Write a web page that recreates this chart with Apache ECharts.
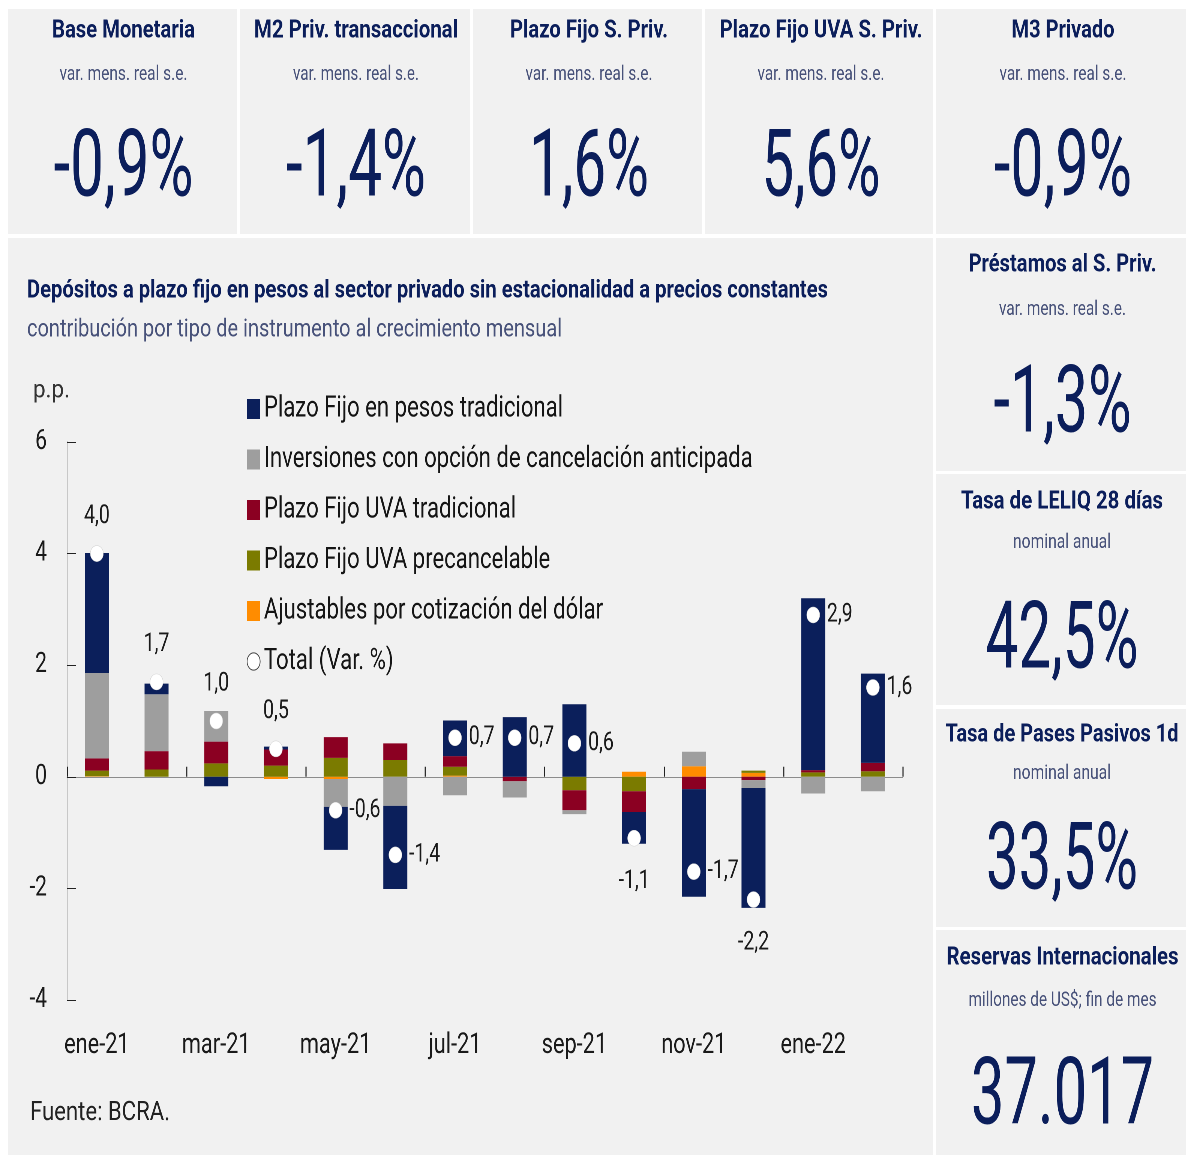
<!DOCTYPE html>
<html><head><meta charset="utf-8">
<script src="https://cdn.jsdelivr.net/npm/echarts@6/dist/echarts.min.js"></script>
<style>
html,body{margin:0;padding:0;background:#fff;overflow:hidden;width:1186px;height:1155px}
#c{height:1155px;transform-origin:0 0}
</style>
</head><body><div id="c"></div>
<script>
// ---------- data ----------
const categories = ['ene-21','feb-21','mar-21','abr-21','may-21','jun-21','jul-21','ago-21','sep-21','oct-21','nov-21','dic-21','ene-22','feb-22'];
const pfTradicional    = [2.15, 0.19, -0.17, 0.05, -0.77, -1.49, 0.64, 1.07, 1.30, -0.57, -1.93, -2.15, 3.08, 1.60];
const inversiones      = [1.53, 1.02, 0.55, 0.00, -0.50, -0.52, -0.33, -0.29, -0.07, 0.00, 0.26, -0.14, -0.30, -0.26];
const uvaTradicional   = [0.22, 0.33, 0.39, 0.29, 0.37, 0.30, 0.19, -0.08, -0.36, -0.37, -0.22, -0.06, 0.04, 0.15];
const uvaPrecancelable = [0.10, 0.13, 0.24, 0.20, 0.34, 0.30, 0.16, 0.00, -0.24, -0.26, 0.00, 0.04, 0.08, 0.10];
const ajustablesDolar  = [0.01, 0.00, 0.00, -0.04, -0.04, 0.00, 0.02, 0.00, 0.00, 0.09, 0.19, 0.07, 0.00, 0.00];
const total            = [4.0, 1.7, 1.0, 0.5, -0.6, -1.4, 0.7, 0.7, 0.6, -1.1, -1.7, -2.2, 2.9, 1.6];
const totalLabelSide   = ['top','top','top','top','right','right','right','right','right','bottom','right','bottom','right','right'];
const seriesNames = ['Plazo Fijo en pesos tradicional','Inversiones con opción de cancelación anticipada','Plazo Fijo UVA tradicional','Plazo Fijo UVA precancelable','Ajustables por cotización del dólar','Total (Var. %)'];

const kpiTitles    = ['Base Monetaria','M2 Priv. transaccional','Plazo Fijo S. Priv.','Plazo Fijo UVA S. Priv.','M3 Privado','Préstamos al S. Priv.','Tasa de LELIQ 28 días','Tasa de Pases Pasivos 1d','Reservas Internacionales'];
const kpiSubtitles = ['var. mens. real s.e.','var. mens. real s.e.','var. mens. real s.e.','var. mens. real s.e.','var. mens. real s.e.','var. mens. real s.e.','nominal anual','nominal anual','millones de US$; fin de mes'];
const kpiValues    = ['-0,9%','-1,4%','1,6%','5,6%','-0,9%','-1,3%','42,5%','33,5%','37.017'];
const chartTitle = 'Depósitos a plazo fijo en pesos al sector privado sin estacionalidad a precios constantes';
const chartSubtitle = 'contribución por tipo de instrumento al crecimiento mensual';
const unitLabel = 'p.p.';
const sourceLabel = 'Fuente: BCRA.';

// ---------- layout / style ----------
// The reference uses a condensed face: the whole canvas is drawn wider and squeezed horizontally.
const S = 0.75;
const X = v => v / S;
const el = document.getElementById('c');
el.style.width = X(1186) + 'px';
el.style.transform = 'scaleX(' + S + ')';

const FONT = 'Roboto';
const NAVY = '#0b1e5b', SUBC = '#48527a', PANEL = '#f1f1f1';
const colors = {nav:'#0b1f5b', gray:'#9e9e9e', red:'#8b0022', olive:'#7b7b00', orange:'#ff8c00'};

const mctx = document.createElement('canvas').getContext('2d');
function txt(text, x, y, size, weight, color, targetW, align) {
  mctx.font = weight + ' ' + size + 'px ' + FONT;
  const w = mctx.measureText(text).width;
  return {type:'text', x:X(x), y:y, scaleX: targetW / (w * S), z: 5,
    style:{text:text, fontSize:size, fontWeight:weight, fontFamily:FONT, fill:color,
      textAlign: align || 'center', textVerticalAlign:'middle'}};
}
const panels = [[8,9,229,225],[240,9,230,225],[473,9,229,225],[705,9,228,225],[936,9,250,225],
  [8,238,925,917],[936,238,250,233],[936,474,250,231],[936,709,250,218],[936,930,250,225]];
const kpiPos = [ // cx, titleY, subY, valueY, titleW, subW, valueW
  [123.5,31,75,172,143,128,140],[356,31,75,172,204,126,140],[589,31,75,172,158,127,120],
  [821,31,75,172,203,127,119],[1063,31,75,172,103,127,138],[1062.5,265,310,408,188,127,138],
  [1062,502,543,644,202,98,153],[1062,735,774,865,233,98,152],[1062.5,958,1001,1100,232,188,183]];

const graphics = panels.map(p => ({type:'rect', z:-10, shape:{x:X(p[0]),y:p[1],width:X(p[2]),height:p[3]}, style:{fill:PANEL}}));
kpiPos.forEach((p,i) => {
  graphics.push(txt(kpiTitles[i], p[0], p[1], 25, 'bold', NAVY, p[4]));
  graphics.push(txt(kpiSubtitles[i], p[0], p[2], 20, 'normal', SUBC, p[5]));
  graphics.push(txt(kpiValues[i], p[0], p[3], 94, 'normal', NAVY, p[6]));
});
graphics.push(txt(chartTitle, 27, 291, 25, 'bold', NAVY, 801, 'left'));
graphics.push(txt(chartSubtitle, 27, 330, 25, 'normal', SUBC, 535, 'left'));
graphics.push(txt(unitLabel, 33, 391, 25, 'normal', '#333', 37, 'left'));
graphics.push(txt(sourceLabel, 30, 1113, 27, 'normal', '#222', 140, 'left'));

const fmt = v => v.toFixed(1).replace('.', ',');
const labelDist = {top:16, bottom:22, right:X(7)};
function barSeries(name, data, color) {
  return {name, type:'bar', stack:'c', data, barWidth:X(24), itemStyle:{color}, emphasis:{disabled:true}};
}
const chart = echarts.init(el, null, {renderer:'canvas', devicePixelRatio:2});
chart.setOption({
  animation:false,
  backgroundColor:'#ffffff',
  textStyle:{fontFamily:FONT},
  graphic:{elements:graphics},
  grid:{left:X(67), right:X(283), top:442, bottom:155, containLabel:false},
  legend:{orient:'vertical', left:X(243), top:389, itemWidth:X(13), itemHeight:20, itemGap:20.5,
    textStyle:{fontSize:29.5, color:'#151515', fontFamily:FONT},
    data:[
      {name:seriesNames[0], icon:'rect'},{name:seriesNames[1], icon:'rect'},{name:seriesNames[2], icon:'rect'},
      {name:seriesNames[3], icon:'rect'},{name:seriesNames[4], icon:'rect'},
      {name:seriesNames[5], icon:'circle', itemStyle:{color:'#fff', borderColor:'#444', borderWidth:1}}]},
  xAxis:[
    {type:'category', data:categories, axisLine:{onZero:true, lineStyle:{color:'#8c8c8c', width:1}},
      axisTick:{show:true, inside:true, length:10, interval:1, lineStyle:{color:'#222', width:1.5}},
      axisLabel:{show:false}, splitLine:{show:false}},
    {type:'category', data:categories, position:'bottom', axisLine:{show:false, onZero:false}, axisTick:{show:false},
      axisLabel:{interval:1, margin:31, fontSize:29, color:'#1a1a1a', fontFamily:FONT}}
  ],
  yAxis:{type:'value', min:-4, max:6, interval:2,
    axisLine:{show:true, lineStyle:{color:'#c8c8c8', width:2}},
    axisTick:{show:true, inside:true, length:X(9), lineStyle:{color:'#222', width:1}},
    splitLine:{show:false},
    axisLabel:{margin:X(20), fontSize:28, color:'#1a1a1a', fontFamily:FONT, formatter:v=>String(v)}},
  series:[
    barSeries(seriesNames[4], ajustablesDolar, colors.orange),
    barSeries(seriesNames[3], uvaPrecancelable, colors.olive),
    barSeries(seriesNames[2], uvaTradicional, colors.red),
    barSeries(seriesNames[1], inversiones, colors.gray),
    barSeries(seriesNames[0], pfTradicional, colors.nav),
    {name:seriesNames[5], type:'scatter', z:5, symbol:'circle', symbolSize:[X(13),16],
      itemStyle:{color:'#ffffff', opacity:1, borderColor:'#d0d0d0', borderWidth:0.5},
      label:{show:true, fontSize:26, color:'#1a1a1a', fontFamily:FONT, formatter:p=>fmt(p.value)},
      data: total.map((v,i)=>({value:v, label:{position:totalLabelSide[i], distance:labelDist[totalLabelSide[i]]}}))}
  ]
});
</script></body></html>
